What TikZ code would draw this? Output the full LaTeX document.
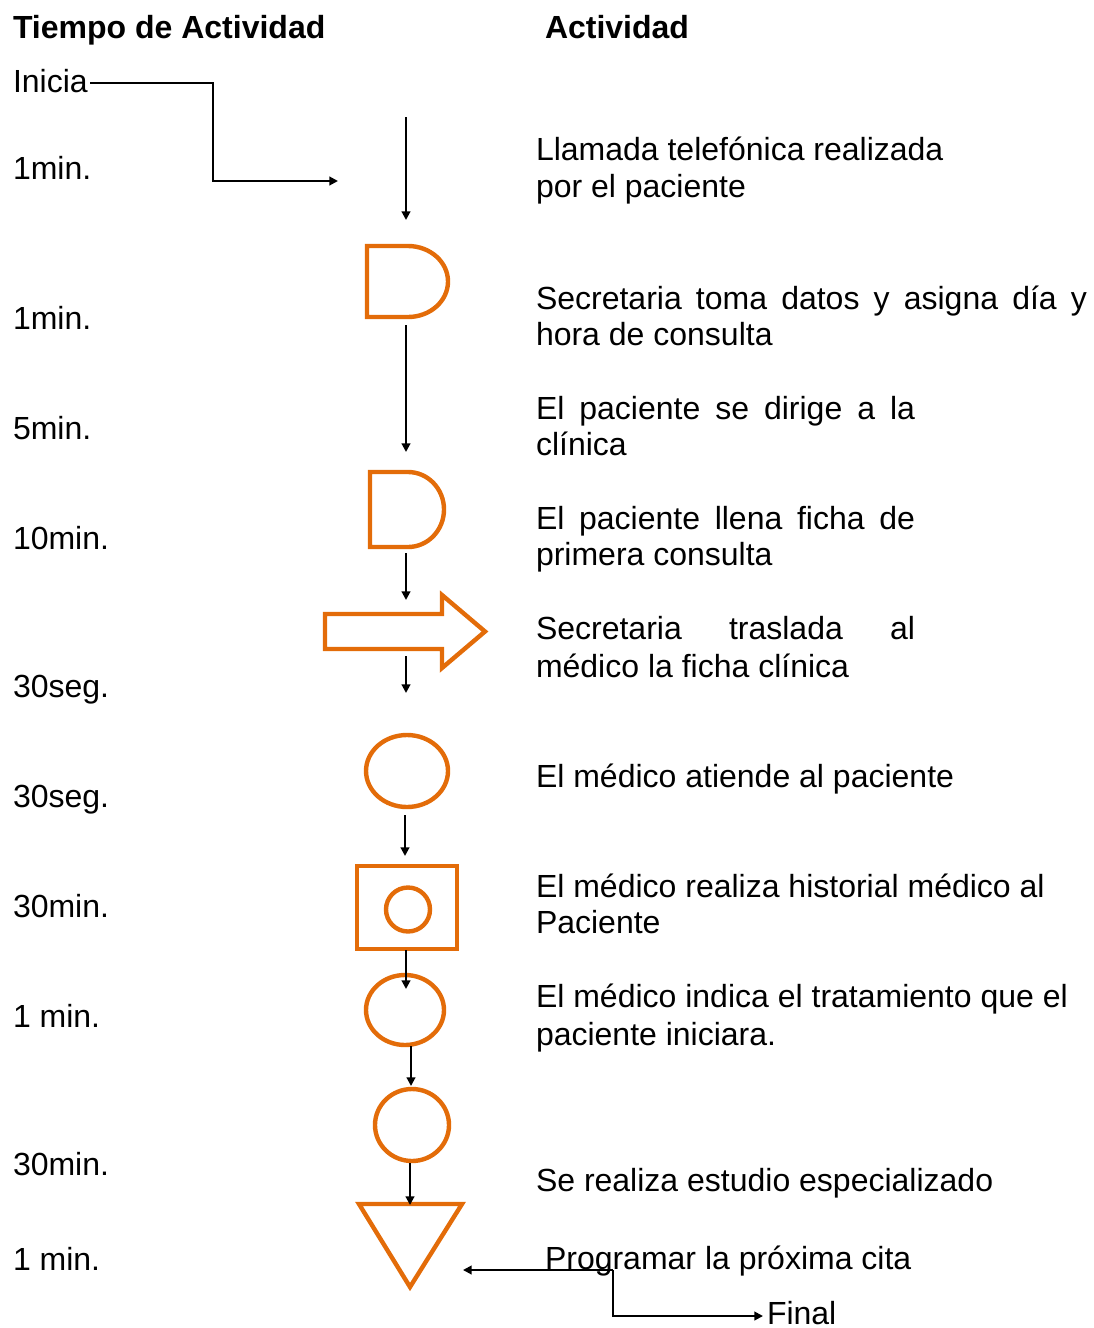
\documentclass[tikz,border=0pt]{standalone}
\usepackage{fontspec}
\setmainfont{Liberation Sans}
\usetikzlibrary{arrows.meta,shapes.geometric}
\definecolor{orng}{HTML}{E36C09}
\newcommand{\fs}{\fontsize{24}{27}\selectfont}
\tikzset{
  txt/.style={anchor=base west, inner sep=0pt, outer sep=0pt, font=\fs},
  ttl/.style={anchor=base west, inner sep=0pt, outer sep=0pt, font=\fs\bfseries},
  flow/.style={draw=black, line width=1.5pt, -{Triangle[length=6.5pt,width=6.5pt]}},
  shp/.style={draw=orng, line width=3.3pt, line join=miter},
  ell/.style={shp, ellipse, inner sep=0pt, outer sep=0pt},
}
\begin{document}
\begin{tikzpicture}[x=0.75pt,y=-0.75pt]
\useasboundingbox (0,0) rectangle (1093,1328);
% titles
\node[ttl] (h1) at (13,38) {Tiempo de Actividad};
\node[ttl] (h2) at (545,38) {Actividad};
% times
\node[txt] (ini) at (13,92) {Inicia};
\node[txt] (m1) at (13,179) {1min.};
\node[txt] (m2) at (13,329) {1min.};
\node[txt] (m3) at (13,439) {5min.};
\node[txt] (m4) at (13,549) {10min.};
\node[txt] (m5) at (13,697) {30seg.};
\node[txt] (m6) at (13,807) {30seg.};
\node[txt] (m7) at (13,917) {30min.};
\node[txt] (m8) at (13,1027) {1 min.};
\node[txt] (m9) at (13,1175) {30min.};
\node[txt] (m10) at (13,1270) {1 min.};
% activities
\node[txt] (t1a) at (536,160) {Llamada telefónica realizada};
\node[txt] (t1b) at (536,197) {por el paciente};
\node[txt] (t2a) at (536,309) {\makebox[413.25pt][s]{Secretaria toma datos y asigna día y}};
\node[txt] (t2b) at (536,345) {hora de consulta};
\node[txt] (t3a) at (536,419) {\makebox[284.25pt][s]{El paciente se dirige a la}};
\node[txt] (t3b) at (536,455) {clínica};
\node[txt] (t4a) at (536,529) {\makebox[284.25pt][s]{El paciente llena ficha de}};
\node[txt] (t4b) at (536,565) {primera consulta};
\node[txt] (t5a) at (536,639) {\makebox[284.25pt][s]{Secretaria traslada al}};
\node[txt] (t5b) at (536,677) {médico la ficha clínica};
\node[txt] (t6) at (536,787) {El médico atiende al paciente};
\node[txt] (t7a) at (536,897) {El médico realiza historial médico al};
\node[txt] (t7b) at (536,933) {Paciente};
\node[txt] (t8a) at (536,1007) {El médico indica el tratamiento que el};
\node[txt] (t8b) at (536,1045) {paciente iniciara.};
\node[txt] (t9) at (536,1191) {Se realiza estudio especializado};
\node[txt] (t10) at (545,1269) {Programar la próxima cita};
\node[txt] (fin) at (767,1324) {Final};
% shapes
\path[shp] (367,246) -- (408,246) .. controls (430.1,246) and (448,261.9) .. (448,281.5)
  .. controls (448,301.1) and (430.1,317) .. (408,317) -- (367,317) -- cycle;
\path[shp] (370,472) -- (408,472) .. controls (427.9,472) and (444,488.8) .. (444,509.5)
  .. controls (444,530.2) and (427.9,547) .. (408,547) -- (370,547) -- cycle;
\path[shp] (325,614) -- (442,614) -- (442,595) -- (485,631.5) -- (442,668) -- (442,649) -- (325,649) -- cycle;
\node[ell, minimum width=61.5pt, minimum height=54pt] (e1) at (407,771) {};
\node[shp, rectangle, inner sep=0pt, minimum width=75pt, minimum height=62.25pt] (sq) at (407,907.5) {};
\node[shp, circle, inner sep=0pt, minimum size=33pt] (ci) at (408,909.5) {};
\node[ell, minimum width=58.5pt, minimum height=52.5pt] (e2) at (405,1010) {};
\node[ell, minimum width=55.5pt, minimum height=54pt] (e3) at (412,1125) {};
\path[shp] (359,1204) -- (462,1204) -- (410,1287) -- cycle;
% connector ends
\coordinate (i1) at (90,83);
\coordinate (i2) at (213,83);
\coordinate (i3) at (213,181);
\coordinate (i4) at (338,181);
\coordinate (a0s) at (406,117); \coordinate (a0e) at (406,220);
\coordinate (a1s) at (406,325); \coordinate (a1e) at (406,452);
\coordinate (a2s) at (406,553); \coordinate (a2e) at (406,600);
\coordinate (a3s) at (406,656); \coordinate (a3e) at (406,693);
\coordinate (a4s) at (405,815); \coordinate (a4e) at (405,856);
\coordinate (a5s) at (406,950); \coordinate (a5e) at (406,989);
\coordinate (a6s) at (411,1046); \coordinate (a6e) at (411,1086);
\coordinate (a7s) at (410,1163); \coordinate (a7e) at (410,1205);
\coordinate (p1) at (613,1270); \coordinate (p2) at (463,1270);
\coordinate (p3) at (613,1316); \coordinate (p4) at (763,1316);
% connectors
\draw[flow] (i1) -- (i2) -- (i3) -- (i4);
\draw[flow] (a0s) -- (a0e);
\draw[flow] (a1s) -- (a1e);
\draw[flow] (a2s) -- (a2e);
\draw[flow] (a3s) -- (a3e);
\draw[flow] (a4s) -- (a4e);
\draw[flow] (a5s) -- (a5e);
\draw[flow] (a6s) -- (a6e);
\draw[flow] (a7s) -- (a7e);
\draw[flow] (p1) -- (p2);
\draw[flow] (p1) -- (p3) -- (p4);
\end{tikzpicture}
\end{document}
